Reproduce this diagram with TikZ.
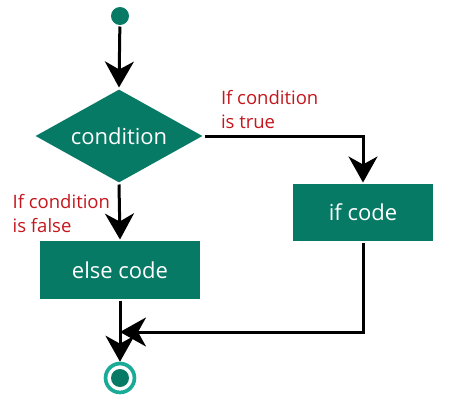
\documentclass[tikz,border=0pt]{standalone}
\usepackage{fontspec}
\setmainfont{Open Sans}
\usepackage{tikz}
\usetikzlibrary{shapes.geometric,positioning,arrows.meta,calc}
\definecolor{boxgreen}{RGB}{7,122,102}
\definecolor{ringgreen}{RGB}{26,170,152}
\definecolor{labelred}{RGB}{196,22,28}

\begin{document}
\begin{tikzpicture}[->,>={Stealth[length=26pt,width=29pt,inset=8pt]}, line width=3pt, x=1pt, y=-1pt]
	\tikzset{
		block/.style={rectangle,fill=boxgreen,text=white,inner sep=0pt,font=\fontsize{22}{26}\selectfont},
		decision/.style={diamond,fill=boxgreen,inner sep=0pt},
		decisiontext/.style={text=white,inner sep=0pt,font=\fontsize{22}{26}\selectfont},
		branchlabel/.style={text=labelred,align=left,inner sep=0pt,font=\fontsize{18.5}{24}\selectfont}
	}
	\useasboundingbox (0,0) rectangle (451,400);

	\node[circle,fill=boxgreen,minimum size=18pt,inner sep=0pt] (start) at (120,16) {};
	\node[decision,minimum width=168pt,minimum height=94pt,
		label={[decisiontext]center:condition}] (cond) at (119,136) {};
	\node[block,minimum width=140pt,minimum height=57pt] (ifcode) at (363,212.5) {if code};
	\node[block,minimum width=160pt,minimum height=58pt] (elsecode) at (120,270) {else code};
	\node[circle,draw=ringgreen,line width=3.7pt,minimum size=28.9pt,inner sep=0pt,
		path picture={\fill[boxgreen] (path picture bounding box.center) circle (9pt);}]
		(stop) at (120,378) {};
	\coordinate (merge) at (120,332);

	\draw (start) -- (cond.north);
	\draw (cond.east) -| (ifcode.north);
	\node[branchlabel,above right=6pt and 15pt of cond.east] (truelabel) {If condition\\is true};
	\draw (cond.south) -- node[branchlabel,left=8pt,yshift=-2pt] (falselabel) {If condition\\is false} (elsecode.north);
	\draw (elsecode.south) -- (stop.north);
	\draw (ifcode.south) |- (merge);
\end{tikzpicture}
\end{document}
